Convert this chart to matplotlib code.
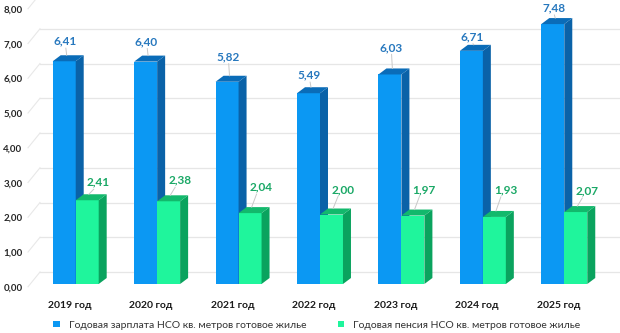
import matplotlib.pyplot as plt
from matplotlib.patches import Polygon
from matplotlib.transforms import ScaledTranslation
import numpy as np

# данные
years = ['2019 год', '2020 год', '2021 год', '2022 год', '2023 год', '2024 год', '2025 год']
salary = [6.41, 6.40, 5.82, 5.49, 6.03, 6.71, 7.48]
pension = [2.41, 2.38, 2.04, 2.00, 1.97, 1.93, 2.07]
salary_name = 'Годовая зарплата НСО кв. метров готовое жилье'
pension_name = 'Годовая пенсия НСО кв. метров готовое жилье'
y_ticks = np.arange(0, 9)

# подъём подписей над столбцами (px)
salary_lift = [20, 20, 25, 18, 27, 14, 16]
pension_lift = [18, 21, 26, 25, 26, 27, 21]

plt.rcParams['font.family'] = ['Lato', 'DejaVu Sans']

PX_X = 81.5   # px на единицу по x
PX_Y = 34.75  # px на единицу по y
W = 23 / PX_X
DX = 8 / PX_X
DY = 6 / PX_Y
WALL = 12 / PX_Y

fig = plt.figure(figsize=(6.2, 3.33), dpi=100)
ax = fig.add_axes([35 / 620, 49 / 333, 570 / 620, 278 / 333])
ax.set_xlim(-0.5, 6.5)
ax.set_ylim(0, 8)
for s in ax.spines.values():
    s.set_visible(False)

# задняя стенка: сетка
x_side = -0.5 - 7 / PX_X
x_wall = -0.5 + 5 / PX_X
for v in y_ticks:
    ax.plot([x_side, x_wall], [v - 0.08, v + WALL], color='#e8e8e8', lw=0.8,
            clip_on=False, zorder=0)
    ax.plot([x_wall, 6.75], [v + WALL, v + WALL], color='#e6e6e6', lw=0.9,
            clip_on=False, zorder=0)


def bars3d(xs, vals, front, side, top, name, z):
    bars = ax.bar(xs, vals, W, align='edge', color=front, label=name, zorder=z, lw=0)
    for x, v in zip(xs, vals):
        ax.add_patch(Polygon([(x + W, 0), (x + W + DX, DY), (x + W + DX, v + DY), (x + W, v)],
                             closed=True, color=side, lw=0, zorder=z))
        ax.add_patch(Polygon([(x, v), (x + DX, v + DY), (x + W + DX, v + DY), (x + W, v)],
                             closed=True, color=top, lw=0, zorder=z))
    return bars


xs = np.arange(len(years))
b1 = bars3d(xs - W, salary, '#0b98f3', '#0a62a8', '#0a6cb8', salary_name, 2)
b2 = bars3d(xs, pension, '#1ff59c', '#0aa35e', '#12b96c', pension_name, 3)

# подписи значений
for i, (v, lift) in enumerate(zip(salary, salary_lift)):
    lx, ly = xs[i] - W / 2 + 0.01, v + lift / PX_Y
    ax.plot([lx + 0.01, lx + 0.02], [ly - 0.2, v + DY], color='#c8c8c8', lw=0.7, zorder=4)
    ax.text(lx, ly, f'{v:.2f}'.replace('.', ','), ha='center', va='center',
            fontsize=8.5, fontweight='bold', color='#2778be', zorder=5)
for i, (v, lift) in enumerate(zip(pension, pension_lift)):
    lx, ly = xs[i] + W / 2 + 0.14, v + lift / PX_Y
    ax.plot([lx - 0.06, lx - 0.12], [ly - 0.2, v + DY], color='#c8c8c8', lw=0.7, zorder=4)
    ax.text(lx, ly, f'{v:.2f}'.replace('.', ','), ha='center', va='center',
            fontsize=8.5, fontweight='bold', color='#1aa866', zorder=5)

# оси
ax.set_yticks(y_ticks)
ax.set_yticklabels([f'{v:.2f}'.replace('.', ',') for v in y_ticks],
                   fontsize=7, fontweight='bold', color='#262626')
ax.tick_params(axis='y', length=0, pad=9)
for lab in ax.get_yticklabels():
    lab.set_transform(lab.get_transform() + ScaledTranslation(0, -3 / 100, fig.dpi_scale_trans))

ax.set_xticks(xs)
ax.set_xticklabels(years, fontsize=7.5, fontweight='bold', color='#1a1a1a')
ax.tick_params(axis='x', length=0, pad=12)
for lab in ax.get_xticklabels():
    lab.set_transform(lab.get_transform() + ScaledTranslation(-6 / 100, 0, fig.dpi_scale_trans))

fig.legend(handles=[b1, b2], loc='center', bbox_to_anchor=(317 / 620, 8 / 333),
           ncol=2, frameon=False, fontsize=7.5, handlelength=0.6, handleheight=0.6,
           handletextpad=0.9, columnspacing=3.0, labelcolor='#333333')

plt.savefig('out.png', dpi=100)
plt.close()
